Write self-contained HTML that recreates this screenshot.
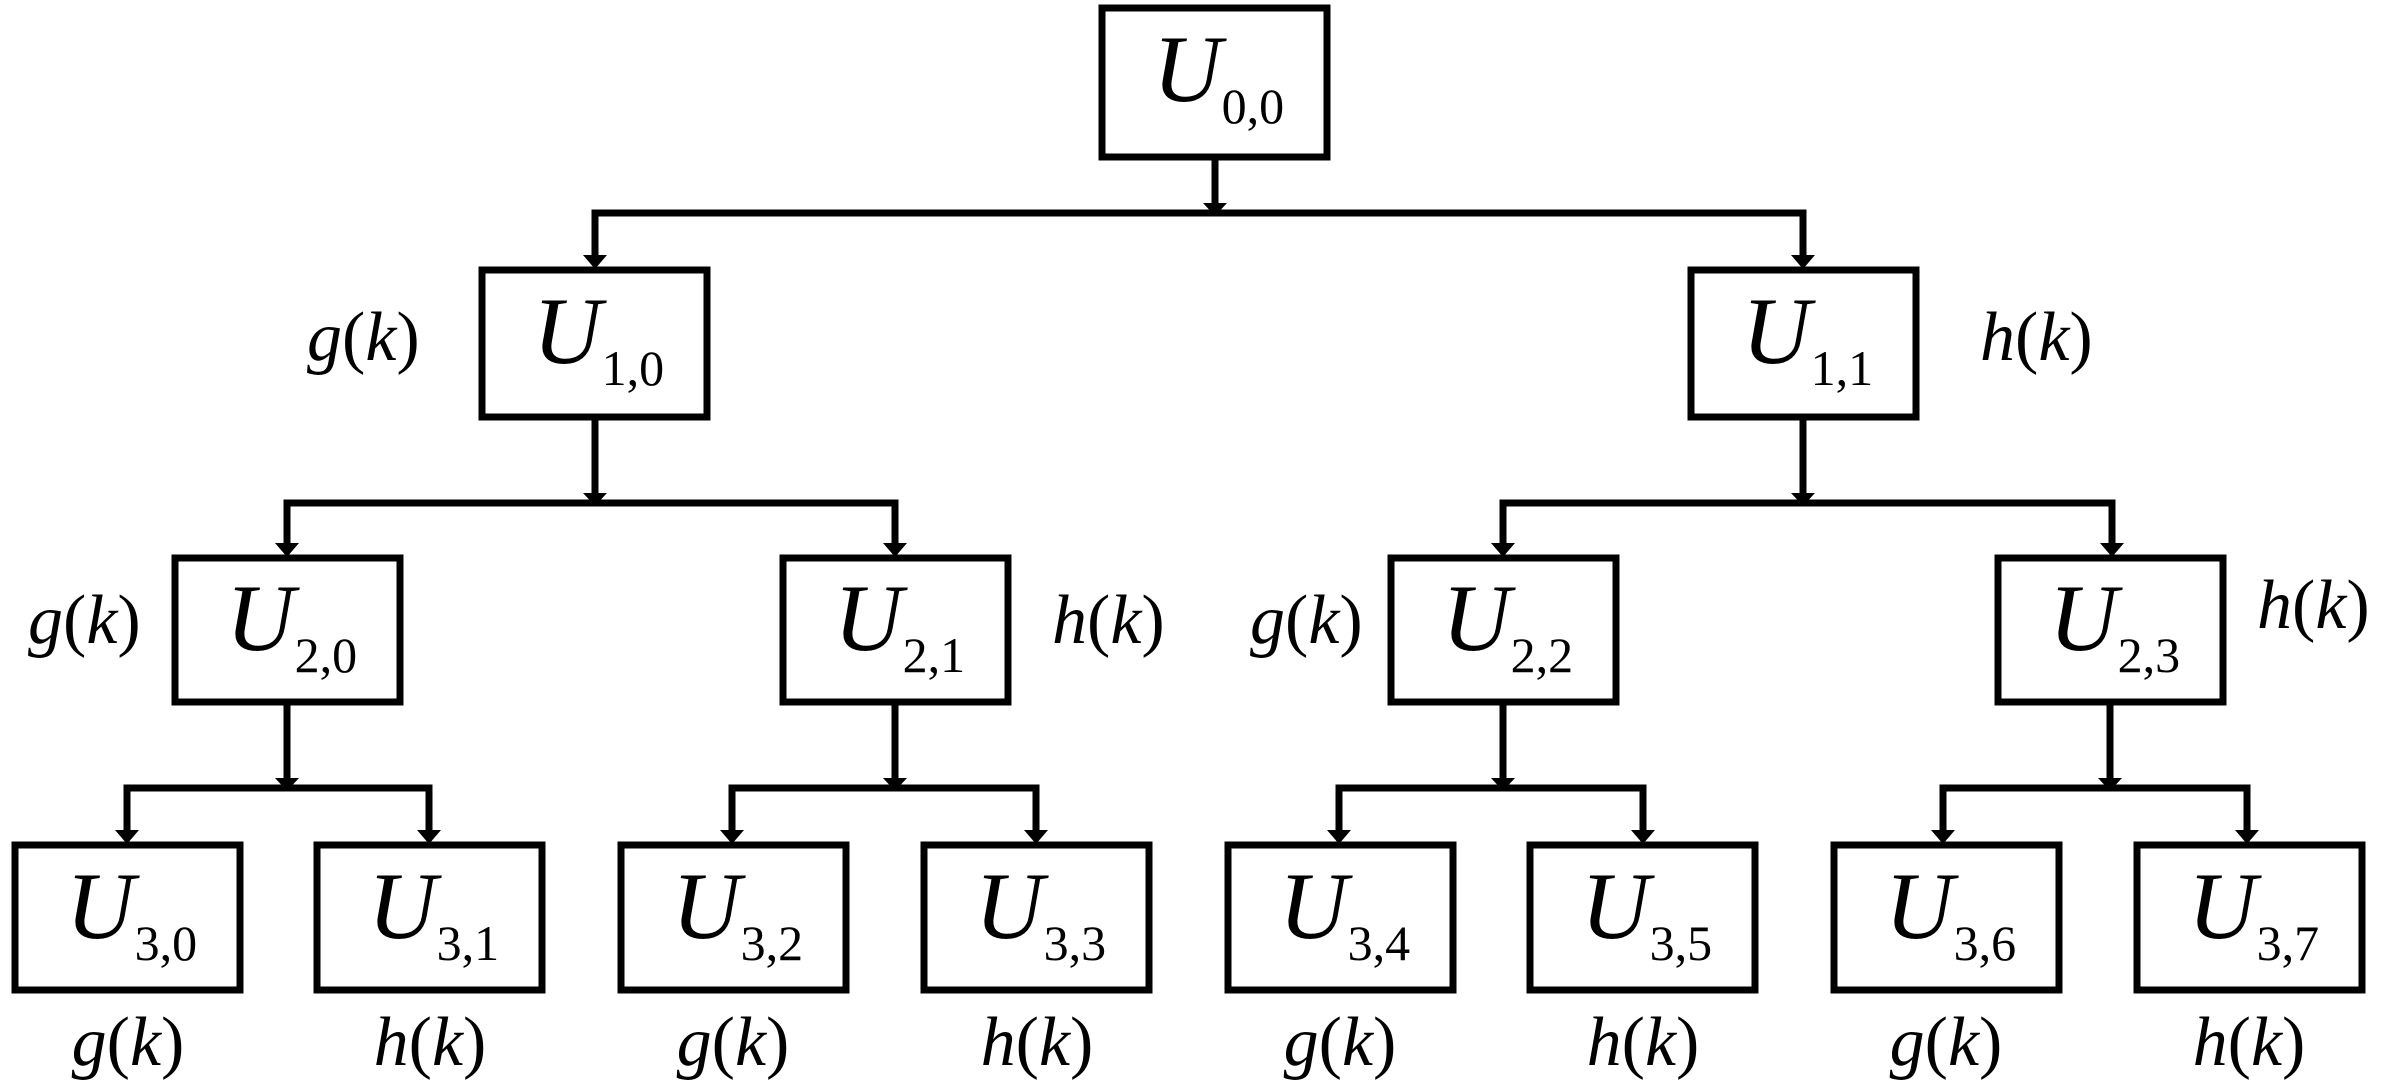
<!DOCTYPE html>
<html><head><meta charset="utf-8"><style>
html,body{margin:0;padding:0;background:#fff;}
svg{display:block;font-family:"Liberation Serif","Times New Roman",Times,"DejaVu Serif",serif;}
svg text{font-family:"Liberation Serif","Times New Roman",Times,"DejaVu Serif",serif;fill:#000;}
.u{font-size:95px;font-style:italic;}
.s{font-size:50px;font-style:normal;}
.l{font-size:70px;font-style:italic;}
.p{font-style:normal;}
</style></head><body>
<svg width="2392" height="1092" viewBox="0 0 2392 1092" xmlns="http://www.w3.org/2000/svg" font-family="Liberation Serif, Times New Roman, serif">
<g fill="none" stroke="#000" stroke-width="7">
<rect x="1102" y="8" width="225" height="149"/>
<rect x="482" y="270" width="225" height="147"/>
<rect x="1691" y="270" width="225" height="147"/>
<rect x="175" y="558" width="225" height="144"/>
<rect x="783" y="558" width="225" height="144"/>
<rect x="1391" y="558" width="225" height="144"/>
<rect x="1998" y="558" width="225" height="144"/>
<rect x="15" y="845" width="225" height="145"/>
<rect x="317" y="845" width="225" height="145"/>
<rect x="621" y="845" width="225" height="145"/>
<rect x="924" y="845" width="225" height="145"/>
<rect x="1228" y="845" width="225" height="145"/>
<rect x="1530" y="845" width="225" height="145"/>
<rect x="1834" y="845" width="225" height="145"/>
<rect x="2137" y="845" width="225" height="145"/>
<path d="M1215 157V205 M595 258V213H1803V258"/>
<path d="M595 417V495 M1803 417V495 M287 546V503H895V546 M1503 546V503H2112V546"/>
<path d="M287 702V780 M895 702V780 M1503 702V780 M2110 702V780"/>
<path d="M127 833V788H429V833 M732 833V788H1036V833 M1339 833V788H1643V833 M1943 833V788H2247V833"/>
</g>
<g fill="#000">
<path d="M1203 203h24l-12 13z"/>
<path d="M583 493h24l-12 13z"/><path d="M1791 493h24l-12 13z"/>
<path d="M275 778h24l-12 13z"/><path d="M883 778h24l-12 13z"/><path d="M1491 778h24l-12 13z"/><path d="M2098 778h24l-12 13z"/>
<path d="M583 255h24l-12 14z"/><path d="M1791 255h24l-12 14z"/>
<path d="M275 543h24l-12 14z"/><path d="M883 543h24l-12 14z"/><path d="M1491 543h24l-12 14z"/><path d="M2100 543h24l-12 14z"/>
<path d="M115 830h24l-12 14z"/><path d="M417 830h24l-12 14z"/><path d="M720 830h24l-12 14z"/><path d="M1024 830h24l-12 14z"/>
<path d="M1327 830h24l-12 14z"/><path d="M1631 830h24l-12 14z"/><path d="M1931 830h24l-12 14z"/><path d="M2235 830h24l-12 14z"/>
</g>
<text class="u" x="1153" y="101">U<tspan class="s" dy="22">0,0</tspan></text>
<text class="u" x="533" y="363">U<tspan class="s" dy="22">1,0</tspan></text>
<text class="u" x="1742" y="363">U<tspan class="s" dy="22">1,1</tspan></text>
<text class="u" x="226" y="650">U<tspan class="s" dy="22">2,0</tspan></text>
<text class="u" x="834" y="650">U<tspan class="s" dy="22">2,1</tspan></text>
<text class="u" x="1442" y="650">U<tspan class="s" dy="22">2,2</tspan></text>
<text class="u" x="2049" y="650">U<tspan class="s" dy="22">2,3</tspan></text>
<text class="u" x="66" y="938">U<tspan class="s" dy="22">3,0</tspan></text>
<text class="u" x="368" y="938">U<tspan class="s" dy="22">3,1</tspan></text>
<text class="u" x="672" y="938">U<tspan class="s" dy="22">3,2</tspan></text>
<text class="u" x="975" y="938">U<tspan class="s" dy="22">3,3</tspan></text>
<text class="u" x="1279" y="938">U<tspan class="s" dy="22">3,4</tspan></text>
<text class="u" x="1581" y="938">U<tspan class="s" dy="22">3,5</tspan></text>
<text class="u" x="1885" y="938">U<tspan class="s" dy="22">3,6</tspan></text>
<text class="u" x="2188" y="938">U<tspan class="s" dy="22">3,7</tspan></text>
<text class="l" x="307" y="360">g<tspan class="p">(</tspan>k<tspan class="p">)</tspan></text>
<text class="l" x="1980" y="360">h<tspan class="p">(</tspan>k<tspan class="p">)</tspan></text>
<text class="l" x="28" y="643">g<tspan class="p">(</tspan>k<tspan class="p">)</tspan></text>
<text class="l" x="1052" y="643">h<tspan class="p">(</tspan>k<tspan class="p">)</tspan></text>
<text class="l" x="1250" y="643">g<tspan class="p">(</tspan>k<tspan class="p">)</tspan></text>
<text class="l" x="2257" y="628">h<tspan class="p">(</tspan>k<tspan class="p">)</tspan></text>
<g text-anchor="middle">
<text class="l" x="128" y="1065">g<tspan class="p">(</tspan>k<tspan class="p">)</tspan></text>
<text class="l" x="430" y="1065">h<tspan class="p">(</tspan>k<tspan class="p">)</tspan></text>
<text class="l" x="733" y="1065">g<tspan class="p">(</tspan>k<tspan class="p">)</tspan></text>
<text class="l" x="1037" y="1065">h<tspan class="p">(</tspan>k<tspan class="p">)</tspan></text>
<text class="l" x="1340" y="1065">g<tspan class="p">(</tspan>k<tspan class="p">)</tspan></text>
<text class="l" x="1643" y="1065">h<tspan class="p">(</tspan>k<tspan class="p">)</tspan></text>
<text class="l" x="1946" y="1065">g<tspan class="p">(</tspan>k<tspan class="p">)</tspan></text>
<text class="l" x="2249" y="1065">h<tspan class="p">(</tspan>k<tspan class="p">)</tspan></text>
</g>
</svg>
</body></html>
